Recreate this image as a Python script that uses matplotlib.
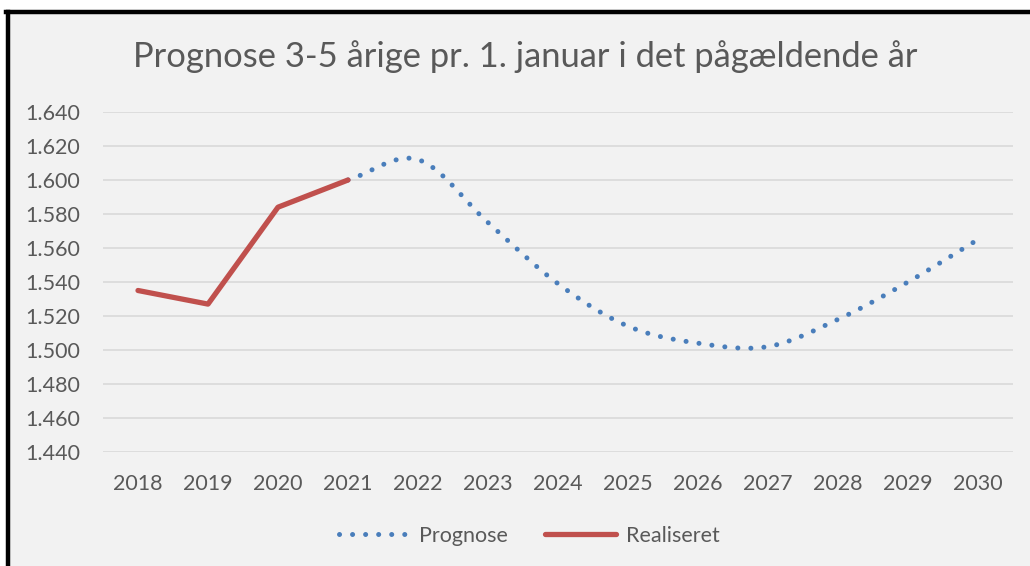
import numpy as np
import matplotlib
matplotlib.use("Agg")
import matplotlib.pyplot as plt
from matplotlib.lines import Line2D
from matplotlib.ticker import FuncFormatter

years = [str(y) for y in range(2018, 2031)]
real_years = ["2018", "2019", "2020", "2021"]
real_values = [1535, 1527, 1584, 1600]
prog_years = ["2021", "2022", "2023", "2024", "2025", "2026", "2027", "2028", "2029", "2030"]
prog_values = [1600, 1612, 1575, 1539, 1514, 1504, 1502, 1518, 1540, 1565]

blue = "#4a7ebb"
red = "#c0504d"
text_col = "#595959"
bg = "#f2f2f2"

plt.rcParams['font.family'] = ['Lato', 'DejaVu Sans']


def smooth(xs, ys, n=30):
    # Catmull-Rom spline, like Excel's "smoothed line"
    xs = np.asarray(xs, float)
    ys = np.asarray(ys, float)
    px = np.concatenate([[2 * xs[0] - xs[1]], xs, [2 * xs[-1] - xs[-2]]])
    py = np.concatenate([[2 * ys[0] - ys[1]], ys, [2 * ys[-1] - ys[-2]]])
    out_x, out_y = [], []
    for i in range(1, len(px) - 2):
        t = np.linspace(0, 1, n, endpoint=False)
        for p, out in ((px, out_x), (py, out_y)):
            p0, p1, p2, p3 = p[i - 1], p[i], p[i + 1], p[i + 2]
            c1 = p1 + (p2 - p0) / 6
            c2 = p2 - (p3 - p1) / 6
            out.extend((1 - t) ** 3 * p1 + 3 * (1 - t) ** 2 * t * c1
                       + 3 * (1 - t) * t ** 2 * c2 + t ** 3 * p2)
    out_x.append(xs[-1])
    out_y.append(ys[-1])
    return np.array(out_x), np.array(out_y)


fig = plt.figure(figsize=(10.30, 5.66), dpi=100)
fig.patch.set_facecolor("white")
W, H = 1030, 566

# chart area with black frame
frame = plt.Rectangle((8 / W, 0), 1, 1 - 12 / H, transform=fig.transFigure,
                      facecolor=bg, edgecolor="none", zorder=-5)
fig.patches.append(frame)
fig.add_artist(Line2D([6 / W, 1], [1 - 12 / H, 1 - 12 / H], color="black", lw=3.2,
                      transform=fig.transFigure, zorder=-4))
fig.add_artist(Line2D([8 / W, 8 / W], [0, 1 - 12 / H], color="black", lw=3.2,
                      transform=fig.transFigure, zorder=-4))

ax = fig.add_axes([103 / W, 1 - 452 / H, 910 / W, 340 / H])
ax.set_zorder(2)
ax.set_facecolor(bg)

xi = {y: i for i, y in enumerate(years)}
sx, sy = smooth([xi[y] for y in prog_years], prog_values)
ax.plot(sx, sy, color=blue, lw=3.6, linestyle=(0, (0.01, 2.6)),
        dash_capstyle="round", label="Prognose", zorder=3)
ax.plot([xi[y] for y in real_years], real_values, color=red, lw=3.8,
        solid_capstyle="round", solid_joinstyle="round", label="Realiseret", zorder=4)

ax.set_xlim(-0.5, len(years) - 0.5)
ax.set_ylim(1440, 1640)
ax.set_yticks(range(1440, 1641, 20))
ax.yaxis.set_major_formatter(FuncFormatter(lambda v, p: f"{int(v) // 1000}.{int(v) % 1000:03d}"))
ax.set_xticks(range(len(years)))
ax.set_xticklabels(years)
ax.grid(axis="y", color="#d9d9d9", lw=1.2)
ax.set_axisbelow(True)
for s in ax.spines.values():
    s.set_visible(False)
ax.tick_params(length=0, labelsize=15.5, colors=text_col)
ax.tick_params(axis="y", pad=16.5)
ax.tick_params(axis="x", pad=16)

fig.text(525 / W, 1 - 57 / H, "Prognose 3-5 årige pr. 1. januar i det pågældende år",
         ha="center", va="center", fontsize=24.8, color=text_col)

leg = fig.legend(handles=ax.get_lines(), loc="center", bbox_to_anchor=(529 / W, 1 - 536 / H),
                 ncol=2, frameon=False, fontsize=15.5, handlelength=3.3, columnspacing=1.7,
                 handletextpad=0.45)
for t in leg.get_texts():
    t.set_color(text_col)

fig.savefig("out.png", dpi=100, facecolor=fig.get_facecolor())
